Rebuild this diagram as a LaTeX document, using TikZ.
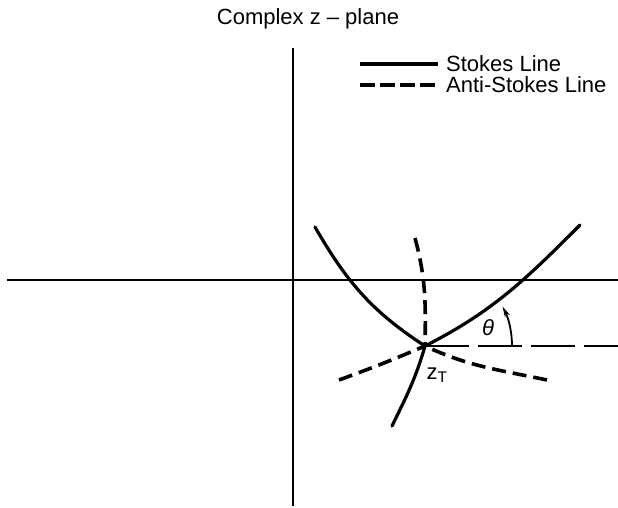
\documentclass[tikz,border=0pt]{standalone}
\usepackage{fontspec}
\setmainfont{Liberation Sans}
\usetikzlibrary{arrows.meta,calc}

\begin{document}
\begin{tikzpicture}[x=1pt, y=1pt, >={Stealth[length=11pt,width=5.5pt]},
    axis/.style={line width=1.8pt},
    stokes/.style={line width=3.2pt, line cap=round},
    antistokes/.style={line width=3.6pt, dash pattern=on 14pt off 7pt},
    refline/.style={line width=1.8pt, dash pattern=on 44pt off 9pt},
    lbl/.style={font=\fontsize{22}{24}\selectfont, inner sep=0pt}]
  \useasboundingbox (0,0) rectangle (618,507);
  \node[lbl, anchor=base] (title) at (308,482) {Complex z -- plane};
  % axes
  \coordinate (xl) at (7,227);
  \coordinate (xr) at (618,227);
  \coordinate (yt) at (293,459);
  \coordinate (yb) at (293,1);
  \draw[axis] (xl) -- (xr);
  \draw[axis] (yt) -- (yb);
  % legend
  \node[lbl, anchor=base west] (lstk) at (446,435) {Stokes Line};
  \node[lbl, anchor=base west] (lanti) at (446,414) {Anti-Stokes Line};
  \coordinate (ls) at (360,443);
  \coordinate (la) at (360,422);
  \draw[stokes, line cap=butt] (ls) -- ([xshift=-8pt]lstk.west |- ls);
  \draw[antistokes, dash pattern=on 15pt off 5pt] (la) -- ([xshift=-8pt]lanti.west |- la);
  % turning point and its lines
  \coordinate (zt) at (425,161);
  \coordinate (s1) at (315,280);
  \coordinate (s2) at (580,282);
  \coordinate (s3) at (392,81);
  \coordinate (a1) at (415,269);
  \coordinate (a2) at (339,127);
  \coordinate (a3) at (547,127);
  \coordinate (re) at (618,161);
  \draw[stokes] (zt) to[out=147, in=-60] (s1);
  \draw[stokes] (zt) to[out=27, in=-135] (s2);
  \draw[stokes] (zt) to[out=-106, in=64] (s3);
  \draw[antistokes] (a1) to[out=-75, in=89] (zt);
  \draw[antistokes] (a2) to[out=20, in=203] (zt);
  \draw[antistokes] (a3) to[out=168, in=-25] (zt);
  \draw[refline] (zt) -- (re);
  \draw[line width=1.8pt, ->] ($(zt)+(87,0)$) arc[start angle=0, end angle=27, radius=87];
  \node[lbl, font=\fontsize{22}{24}\selectfont\itshape] (th) at (488,179) {θ};
  \node[lbl] (ztl) at (437,132) {z\textsubscript{T}};
\end{tikzpicture}
\end{document}
